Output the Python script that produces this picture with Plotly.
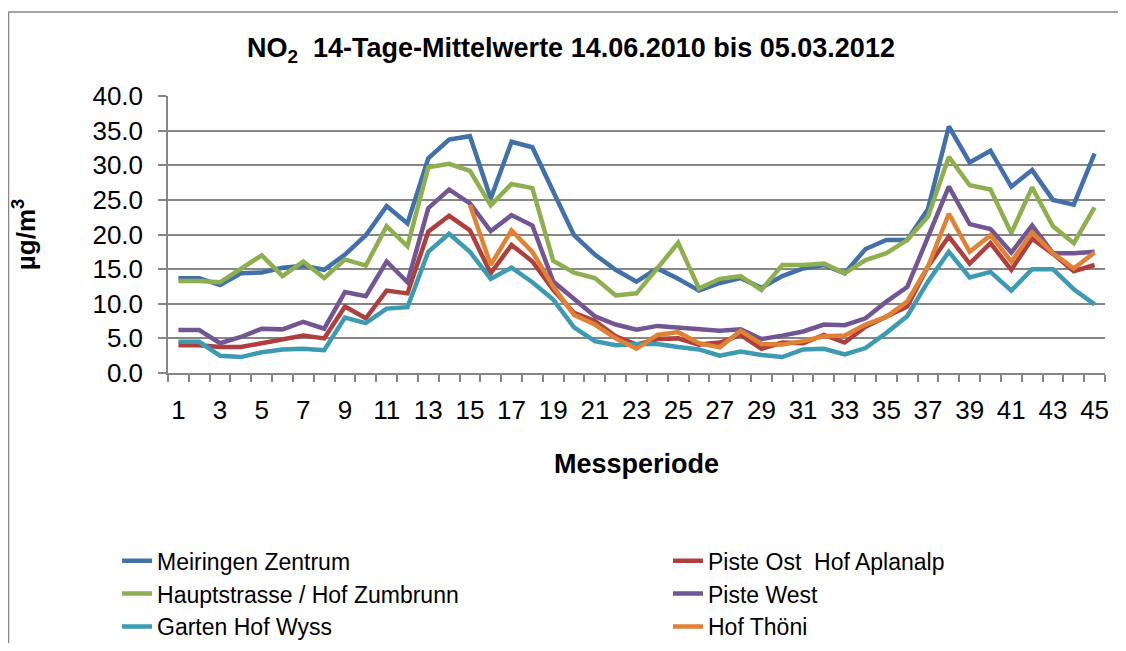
import plotly.graph_objects as go

# NO2 14-day means, period 1..45
periods = list(range(1, 46))

meiringen_zentrum = [13.7, 13.7, 12.7, 14.4, 14.5, 15.2, 15.5, 14.9, 17.1, 19.9,
                     24.1, 21.6, 31.0, 33.7, 34.2, 25.2, 33.4, 32.6, 26.2, 19.9,
                     17.1, 14.9, 13.2, 15.1, 13.6, 11.9, 13.0, 13.7, 12.3, 14.0,
                     15.1, 15.6, 14.4, 17.9, 19.2, 19.2, 23.7, 35.6, 30.4, 32.1,
                     26.9, 29.3, 25.0, 24.3, 31.7]
piste_ost = [4.0, 4.0, 3.75, 3.75, 4.3, 4.8, 5.4, 5.0, 9.6, 7.9,
             11.9, 11.5, 20.4, 22.7, 20.6, 14.4, 18.5, 16.1, 12.0, 8.7,
             7.5, 5.3, 4.1, 4.9, 5.0, 4.1, 4.4, 5.5, 3.5, 4.4,
             4.3, 5.5, 4.4, 6.7, 8.2, 9.6, 15.4, 19.7, 15.8, 18.75,
             14.9, 19.4, 17.2, 14.7, 15.6]
hauptstrasse = [13.3, 13.3, 13.1, 15.0, 17.0, 14.0, 16.1, 13.7, 16.4, 15.5,
                21.2, 18.3, 29.7, 30.2, 29.2, 24.2, 27.3, 26.7, 16.2, 14.5,
                13.7, 11.2, 11.5, 15.1, 18.8, 12.2, 13.6, 14.0, 12.0, 15.6,
                15.6, 15.8, 14.4, 16.3, 17.3, 19.2, 22.6, 31.2, 27.1, 26.5,
                20.2, 26.8, 21.2, 18.75, 23.9]
piste_west = [6.2, 6.2, 4.3, 5.2, 6.4, 6.3, 7.4, 6.4, 11.7, 11.1,
              16.1, 13.1, 23.8, 26.5, 24.5, 20.5, 22.8, 21.3, 13.2, 10.8,
              8.2, 7.0, 6.25, 6.8, 6.6, 6.3, 6.1, 6.3, 4.9, 5.4,
              6.0, 7.0, 6.9, 7.9, 10.3, 12.4, 19.7, 26.9, 21.5, 20.8,
              17.4, 21.3, 17.3, 17.3, 17.5]
garten_wyss = [4.5, 4.5, 2.5, 2.3, 3.0, 3.4, 3.5, 3.3, 8.0, 7.2,
               9.3, 9.5, 17.5, 20.1, 17.5, 13.6, 15.2, 13.1, 10.6, 6.6,
               4.6, 4.0, 4.2, 4.2, 3.75, 3.4, 2.5, 3.1, 2.6, 2.3,
               3.4, 3.5, 2.7, 3.6, 5.8, 8.2, 13.2, 17.5, 13.8, 14.6,
               11.9, 15.0, 15.0, 12.1, 9.9]
hof_thoeni = [None] * 14 + [24.3, 15.6, 20.6, 17.5, 12.5, 8.4,
                            7.0, 5.0, 3.5, 5.5, 5.9, 4.3, 3.7, 6.1, 4.2, 4.1,
                            4.6, 5.3, 5.4, 7.0, 8.1, 10.3, 15.4, 23.0, 17.5, 19.9,
                            16.1, 20.3, 17.3, 15.1, 17.4]

series = [
    ("Meiringen Zentrum", meiringen_zentrum, "#4170AA", "legend"),
    ("Piste Ost  Hof Aplanalp", piste_ost, "#AF3F3C", "legend2"),
    ("Hauptstrasse / Hof Zumbrunn", hauptstrasse, "#8DAF4E", "legend"),
    ("Piste West", piste_west, "#725593", "legend2"),
    ("Garten Hof Wyss", garten_wyss, "#3C9BB3", "legend"),
    ("Hof Thöni", hof_thoeni, "#E08133", "legend2"),
]

FONT = "Liberation Sans, Arial, sans-serif"
GRID = "#868686"
W, H = 1118, 635  # page body keeps an 8px margin

fig = go.Figure()
for name, vals, color, leg in series:
    fig.add_trace(go.Scatter(
        x=periods, y=vals, name=name, mode="lines",
        line=dict(color=color, width=4.5),
        legend=leg,
    ))

fig.update_layout(
    width=W, height=H,
    margin=dict(l=160, r=21, t=88, b=H - 365, autoexpand=False),
    paper_bgcolor="white", plot_bgcolor="white",
    font=dict(family=FONT, size=26, color="black"),
    title=dict(
        text="<b>NO<sub>2</sub>\u00a0 14-Tage-Mittelwerte 14.06.2010 bis 05.03.2012</b>",
        font=dict(size=27), xref="container", x=563 / W, xanchor="center",
        yref="container", y=1 - 40 / H, yanchor="middle",
    ),
    legend=dict(x=-0.0544, xanchor="left", y=-0.6, yanchor="top",
                font=dict(size=23), bgcolor="rgba(0,0,0,0)"),
    legend2=dict(x=0.5336, xanchor="left", y=-0.6, yanchor="top",
                 font=dict(size=23), bgcolor="rgba(0,0,0,0)"),
    showlegend=True,
)

fig.update_xaxes(
    range=[0.5, 45.5], tickvals=periods[::2], ticks="",
    showgrid=False, showline=True, linecolor=GRID, linewidth=1.5,
    minor=dict(tick0=0.5, dtick=1, ticks="outside", ticklen=7,
               tickcolor=GRID, tickwidth=1.5, showgrid=False),
    ticklabelstandoff=13, tickfont=dict(size=26), automargin=False,
    title=dict(text="<b>Messperiode</b>", font=dict(size=27), standoff=30),
)
fig.update_yaxes(
    range=[0, 40], dtick=5, tickformat=".1f",
    showgrid=True, gridcolor=GRID, gridwidth=1.5,
    showline=True, linecolor=GRID, linewidth=1.5,
    ticks="outside", ticklen=8, tickcolor=GRID, tickwidth=1.5,
    ticklabelstandoff=10, tickfont=dict(size=26), zeroline=False, automargin=False,
    title=dict(text="<b>µg/m<sup>3</sup></b>", font=dict(size=26), standoff=50),
)

# chart area frame (left and top edges visible)
frame_left, frame_top = (0.5 - 160) / 937, (365 - 4) / 277
fig.add_shape(type="line", xref="paper", yref="paper",
              x0=frame_left, x1=frame_left, y0=-1.2, y1=frame_top,
              line=dict(color=GRID, width=1.5), layer="below")
fig.add_shape(type="line", xref="paper", yref="paper",
              x0=frame_left, x1=1.02, y0=frame_top, y1=frame_top,
              line=dict(color=GRID, width=1.5), layer="below")

fig.write_html("out.html")
